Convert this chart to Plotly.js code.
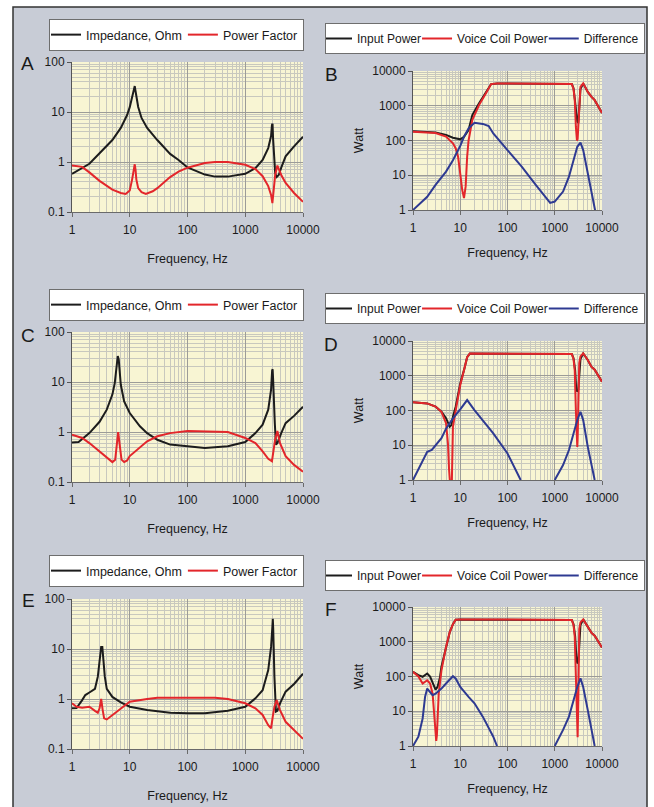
<!DOCTYPE html>
<html>
<head>
<meta charset="utf-8">
<script src="https://cdn.plot.ly/plotly-3.0.1.min.js"></script>
<style>html,body{margin:0;padding:0;background:#fff;}#chart{width:654px;height:807px;}</style>
</head>
<body>
<div id="chart"></div>
<script>
// ---------- tick labels ----------
const freqTicks = [1, 10, 100, 1000, 10000];
const freqTickText = ['1', '10', '100', '1000', '10000'];
const impTicks = [0.1, 1, 10, 100];
const impTickText = ['0.1', '1', '10', '100'];
const powTicks = [1, 10, 100, 1000, 10000];
const powTickText = ['1', '10', '100', '1000', '10000'];

// ---------- Panel A ----------
const fA_imp = [1,1.5,2,3,4,5,7,9,10,11,11.7,12.2,12.6,13,14,16,20,30,50,70,100,200,300,500,1000,1500,2000,2500,2800,2900,2970,3030,3080,3150,3300,3500,3800,4200,5000,7000,10000];
const zA = [0.58,0.75,0.92,1.5,2.1,2.75,4.8,8.7,12.5,19,28,33,26,20,12.6,7.6,4.8,2.75,1.45,1.1,0.78,0.56,0.51,0.51,0.58,0.75,1.1,1.9,3.3,5.5,5.8,3,2.2,1.2,0.6,0.5,0.55,0.77,1.3,2.06,3.2];
const fA_pf = [1,1.5,2,3,5,7,8.5,10,11,11.7,12.2,12.6,13,14,16,19,25,30,50,70,100,200,300,500,1000,1500,2000,2500,2800,2950,3100,3300,3600,4200,5000,7000,10000];
const pfA = [0.85,0.8,0.62,0.42,0.28,0.24,0.23,0.27,0.45,0.8,0.9,0.7,0.45,0.3,0.25,0.23,0.26,0.3,0.5,0.64,0.77,0.95,1.0,1.0,0.88,0.72,0.52,0.33,0.22,0.15,0.3,0.55,0.85,0.55,0.38,0.24,0.16];

// ---------- Panel C ----------
const fC_imp = [1,1.3,2,3,4,5,5.5,5.9,6.2,6.45,6.7,7,8,10,15,20,30,50,100,200,500,1000,1500,2000,2500,2800,2920,2980,3040,3120,3250,3400,3600,4200,5000,7000,10000];
const zC = [0.62,0.63,0.95,1.6,2.8,5.6,9.5,20,33,28,16,8.8,4.1,2.4,1.3,0.95,0.7,0.56,0.52,0.48,0.52,0.63,0.95,1.4,2.8,7,17,18,11,4,1.5,0.56,0.6,0.95,1.5,2.1,3.2];
const fC_pf = [1,1.5,2,3,4,5,5.6,6,6.3,6.7,7.2,8,9,10,15,20,30,50,100,300,500,1000,1500,2000,2500,2900,3100,3300,3600,4000,5000,7000,10000];
const pfC = [0.88,0.76,0.6,0.41,0.3,0.25,0.28,0.55,1.0,0.55,0.28,0.25,0.27,0.33,0.48,0.65,0.82,0.95,1.05,1.03,1.0,0.76,0.6,0.41,0.29,0.26,0.45,0.72,1.05,0.6,0.33,0.22,0.16];

// ---------- Panel E ----------
const fE_imp = [1,1.2,1.5,1.7,2,2.5,2.8,3.0,3.2,3.35,3.5,3.7,4,5,7,10,20,50,100,200,500,1000,1500,2000,2500,2800,2950,3000,3050,3100,3200,3400,3600,4000,5000,7000,10000];
const zE = [0.65,0.66,0.95,1.2,1.35,1.6,2.8,6,11,11,6,2.8,1.6,1.1,0.86,0.7,0.6,0.53,0.52,0.52,0.58,0.7,1.03,1.5,3.8,11,28,40,25,8,2.8,0.56,0.58,0.82,1.4,2,3.2];
const fE_pf = [1,1.2,1.5,2,2.5,2.8,3.0,3.2,3.4,3.6,4,5,7,10,20,30,100,300,500,1000,1500,2000,2500,2800,3000,3200,3500,4000,5000,7000,10000];
const pfE = [0.82,0.7,0.67,0.7,0.58,0.53,0.65,1.0,0.6,0.41,0.39,0.48,0.65,0.88,1.0,1.06,1.06,1.06,1.0,0.82,0.65,0.48,0.3,0.26,0.45,0.7,0.95,0.6,0.35,0.24,0.16];

// ---------- Panel B ----------
const fB_in = [1,2,3,5,7,10,12,15,18,25,35,45,60,100,500,1000,2000,2300,2500,2700,2850,3000,3150,3300,3500,4000,5000,6000,7000,10000];
const pB_in = [185,180,170,145,120,108,128,200,540,1170,2520,4200,4400,4400,4400,4400,4400,4200,3200,1450,600,350,320,700,3000,4400,2500,1800,1450,620];
const fB_vc = [1,2,3,5,7,8,9,10,11,12,13,14,15,18,25,35,45,60,100,500,1000,2000,2300,2500,2650,2800,2950,3050,3200,3350,3500,4000,5000,6000,7000,10000];
const pB_vc = [180,175,165,130,83,60,34,11,3.8,2.2,4.7,34,100,390,1050,2300,4200,4400,4400,4400,4400,4400,4200,3000,1500,250,100,110,400,1800,3500,4400,2500,1800,1450,620];
const fB_d = [1,1.5,2,3,5,7,10,12,15,20,25,30,40,50,100,200,400,700,800,1000,1500,2000,2500,3000,3500,4000,5000,6000,7000,7500];
const dB = [1,1.7,2.4,5.3,12.7,27,70,128,225,325,310,300,260,160,53,17.6,5.2,1.9,1.6,1.75,3.4,9.1,30,66,87,53,11.4,3,1,0.7];

// ---------- Panel D ----------
const fD_in = [1,2,3,4,5,5.5,6,6.5,7,8,9,10,12,14,16,20,100,1000,2000,2300,2500,2700,2850,3000,3150,3300,3500,4000,5000,6000,7000,10000];
const pD_in = [172,160,130,92,60,43,34,38,66,128,310,600,1450,3400,4400,4400,4400,4400,4400,4200,3200,1450,400,350,400,900,3000,4400,2850,1800,1500,670];
const fD_vc = [1,2,3,4,5,5.5,5.8,6.0,6.2,6.4,6.6,6.8,7,8,9,10,12,14,16,20,100,1000,2000,2300,2500,2650,2800,2900,3000,3050,3150,3300,3500,4000,5000,6000,7000,10000];
const pD_vc = [172,160,130,92,43,11,2,0.6,0.3,0.3,0.6,4.7,34,100,250,540,1450,3400,4400,4400,4400,4400,4400,4200,3000,1400,100,20,9,15,300,2300,3600,4400,2850,1800,1500,670];
const fD_d = [1,1.5,2,2.5,3,4,5,6,7,10,12,14,20,30,50,100,150,190,500,1000,1500,2000,2500,3000,3500,4000,5000,6000,7000];
const dD = [1,3,6.5,7.3,10.2,16,30,45,59,108,154,200,103,53,22,5.8,2,1,null,1,2.7,7.3,22,53,92,53,9,2.4,1];

// ---------- Panel F ----------
const fF_in = [1,1.3,1.6,2,2.3,2.6,3,3.3,3.7,4,5,6,7,8,10,100,1000,2000,2300,2500,2700,2850,3000,3150,3300,3500,4000,5000,6000,7000,10000];
const pF_in = [136,109,98,122,100,63,42,50,90,190,710,1900,3200,4300,4400,4400,4400,4400,4200,3200,1450,400,240,260,900,3000,4400,2700,1800,1500,680];
const fF_vc = [1,1.3,1.6,2,2.3,2.6,2.8,3,3.1,3.2,3.35,3.5,4,5,6,7,8,10,100,1000,2000,2300,2500,2650,2800,2950,3050,3150,3300,3500,4000,5000,6000,7000,10000];
const pF_vc = [136,100,63,78,63,32,8.7,1.85,1.4,2,6,32,150,710,1900,3200,4300,4400,4400,4400,4400,4200,3000,1400,100,3,1.8,20,2300,3600,4400,2700,1800,1500,680];
const fF_d = [1,1.3,1.6,1.8,2,2.3,2.6,3,4,5,6,7,8,10,15,20,30,50,60,300,1000,1500,2000,2500,3000,3500,4000,5000,6000,7000];
const dF = [1,1.85,6.2,26,45,36,29,32,45,63,82,102,88,50,26,17,7,1.85,1,null,1,2.9,7,21,50,88,50,10.8,3.2,1];

// ---------- styling ----------
const W = 654, H = 807;
const FONT = 'Liberation Sans, Arial, Helvetica, sans-serif';
const BLACK = '#1c1c1c', RED = '#e3262b', BLUE = '#2e3a92';
const px = v => v / W;
const py = v => 1 - v / H;

function line(x, y, name, color, xa, ya, leg) {
  return { type: 'scatter', mode: 'lines', x: x, y: y, name: name,
    line: { color: color, width: 2 }, xaxis: xa, yaxis: ya, legend: leg,
    connectgaps: false, hoverinfo: 'x+y+name' };
}

const data = [
  line(fA_imp, zA, 'Impedance, Ohm', BLACK, 'x', 'y', 'legend'),
  line(fA_pf, pfA, 'Power Factor', RED, 'x', 'y', 'legend'),
  line(fB_in, pB_in, 'Input Power', BLACK, 'x2', 'y2', 'legend2'),
  line(fB_vc, pB_vc, 'Voice Coil Power', RED, 'x2', 'y2', 'legend2'),
  line(fB_d, dB, 'Difference', BLUE, 'x2', 'y2', 'legend2'),
  line(fC_imp, zC, 'Impedance, Ohm', BLACK, 'x3', 'y3', 'legend3'),
  line(fC_pf, pfC, 'Power Factor', RED, 'x3', 'y3', 'legend3'),
  line(fD_in, pD_in, 'Input Power', BLACK, 'x4', 'y4', 'legend4'),
  line(fD_vc, pD_vc, 'Voice Coil Power', RED, 'x4', 'y4', 'legend4'),
  line(fD_d, dD, 'Difference', BLUE, 'x4', 'y4', 'legend4'),
  line(fE_imp, zE, 'Impedance, Ohm', BLACK, 'x5', 'y5', 'legend5'),
  line(fE_pf, pfE, 'Power Factor', RED, 'x5', 'y5', 'legend5'),
  line(fF_in, pF_in, 'Input Power', BLACK, 'x6', 'y6', 'legend6'),
  line(fF_vc, pF_vc, 'Voice Coil Power', RED, 'x6', 'y6', 'legend6'),
  line(fF_d, dF, 'Difference', BLUE, 'x6', 'y6', 'legend6')
];

const gridMajor = '#9c9c98', gridMinor = '#c8c8be';
function xAxis(l, r, anchor, standoff) {
  return { type: 'log', domain: [px(l), px(r)], anchor: anchor, range: [0, 4],
    tickmode: 'array', tickvals: freqTicks, ticktext: freqTickText,
    showgrid: true, gridcolor: gridMajor, gridwidth: 1,
    minor: { dtick: 'D1', showgrid: true, gridcolor: gridMinor, gridwidth: 1 },
    showline: true, linecolor: '#6a6a6a', linewidth: 1, ticks: 'outside', ticklen: 4, tickcolor: '#6a6a6a',
    ticklabelstandoff: 3,
    tickfont: { size: 12, color: '#1a1a1a' }, zeroline: false, automargin: false,
    title: { text: 'Frequency, Hz', font: { size: 12.5, color: '#1a1a1a' }, standoff: standoff } };
}
function yAxis(t, b, anchor, range, tv, tt, title) {
  const ax = { type: 'log', domain: [py(b), py(t)], anchor: anchor, range: range,
    tickmode: 'array', tickvals: tv, ticktext: tt,
    showgrid: true, gridcolor: gridMajor, gridwidth: 1,
    minor: { dtick: 'D1', showgrid: true, gridcolor: gridMinor, gridwidth: 1 },
    showline: true, linecolor: '#555', linewidth: 1, ticks: 'outside', ticklen: 4, tickcolor: '#555',
    tickfont: { size: 12, color: '#1a1a1a' }, zeroline: false, automargin: false };
  if (title) ax.title = { text: title, font: { size: 12.5, color: '#1a1a1a' }, standoff: 5 };
  return ax;
}

const L_l = 72, L_r = 303, R_l = 413, R_r = 602;
function legendAt(xp, yp, size, indent) {
  return { x: px(xp), y: py(yp), xanchor: 'left', yanchor: 'top', orientation: 'h',
    bgcolor: '#ffffff', bordercolor: '#6e6e6e', borderwidth: 1, itemwidth: 30,
    indentation: indent,
    font: { family: FONT, size: size, color: '#1a1a1a' }, tracegroupgap: 0 };
}

function letter(t, xp, yp) {
  return { text: t, x: px(xp), y: py(yp), xref: 'paper', yref: 'paper', showarrow: false,
    xanchor: 'center', yanchor: 'middle', font: { size: 19, color: '#1a1a1a', family: FONT } };
}

const layout = {
  width: W, height: H, margin: { l: 0, r: 0, t: 0, b: 0 },
  paper_bgcolor: '#c8ccd6', plot_bgcolor: '#f8f5d3',
  font: { family: FONT, color: '#1a1a1a' },
  xaxis: xAxis(L_l, L_r, 'y', 17),
  yaxis: yAxis(62, 212, 'x', [-1, 2], impTicks, impTickText, null),
  xaxis2: xAxis(R_l, R_r, 'y2', 13),
  yaxis2: yAxis(71, 210, 'x2', [0, 4], powTicks, powTickText, 'Watt'),
  xaxis3: xAxis(L_l, L_r, 'y3', 17),
  yaxis3: yAxis(332, 482, 'x3', [-1, 2], impTicks, impTickText, null),
  xaxis4: xAxis(R_l, R_r, 'y4', 13),
  yaxis4: yAxis(341, 480, 'x4', [0, 4], powTicks, powTickText, 'Watt'),
  xaxis5: xAxis(L_l, L_r, 'y5', 17),
  yaxis5: yAxis(599, 749, 'x5', [-1, 2], impTicks, impTickText, null),
  xaxis6: xAxis(R_l, R_r, 'y6', 13),
  yaxis6: yAxis(607, 746, 'x6', [0, 4], powTicks, powTickText, 'Watt'),
  legend: legendAt(49, 19, 12.5, -4),
  legend2: legendAt(325, 23, 12, -9),
  legend3: legendAt(49, 289, 12.5, -4),
  legend4: legendAt(325, 293, 12, -9),
  legend5: legendAt(49, 555, 12.5, -4),
  legend6: legendAt(325, 560, 12, -9),
  annotations: [
    letter('A', 27, 64), letter('B', 331, 74),
    letter('C', 28, 335), letter('D', 331, 344),
    letter('E', 28, 600), letter('F', 331, 609)
  ],
  shapes: [
    { type: 'rect', xref: 'paper', yref: 'paper', x0: 0, x1: px(13), y0: -0.01, y1: 1.01, fillcolor: '#ffffff', line: { width: 0 }, layer: 'below' },
    { type: 'rect', xref: 'paper', yref: 'paper', x0: 0, x1: 1, y0: py(7), y1: 1.01, fillcolor: '#ffffff', line: { width: 0 }, layer: 'below' },
    { type: 'rect', xref: 'paper', yref: 'paper', x0: px(647), x1: 1.01, y0: -0.01, y1: 1.01, fillcolor: '#ffffff', line: { width: 0 }, layer: 'below' },
    { type: 'rect', xref: 'paper', yref: 'paper', x0: px(13), x1: px(647), y0: -0.02, y1: py(7), fillcolor: 'rgba(0,0,0,0)', line: { color: '#333', width: 1.5 }, layer: 'above' }
  ]
};

Plotly.newPlot('chart', data, layout, { displayModeBar: false, staticPlot: true });
</script>
</body>
</html>
